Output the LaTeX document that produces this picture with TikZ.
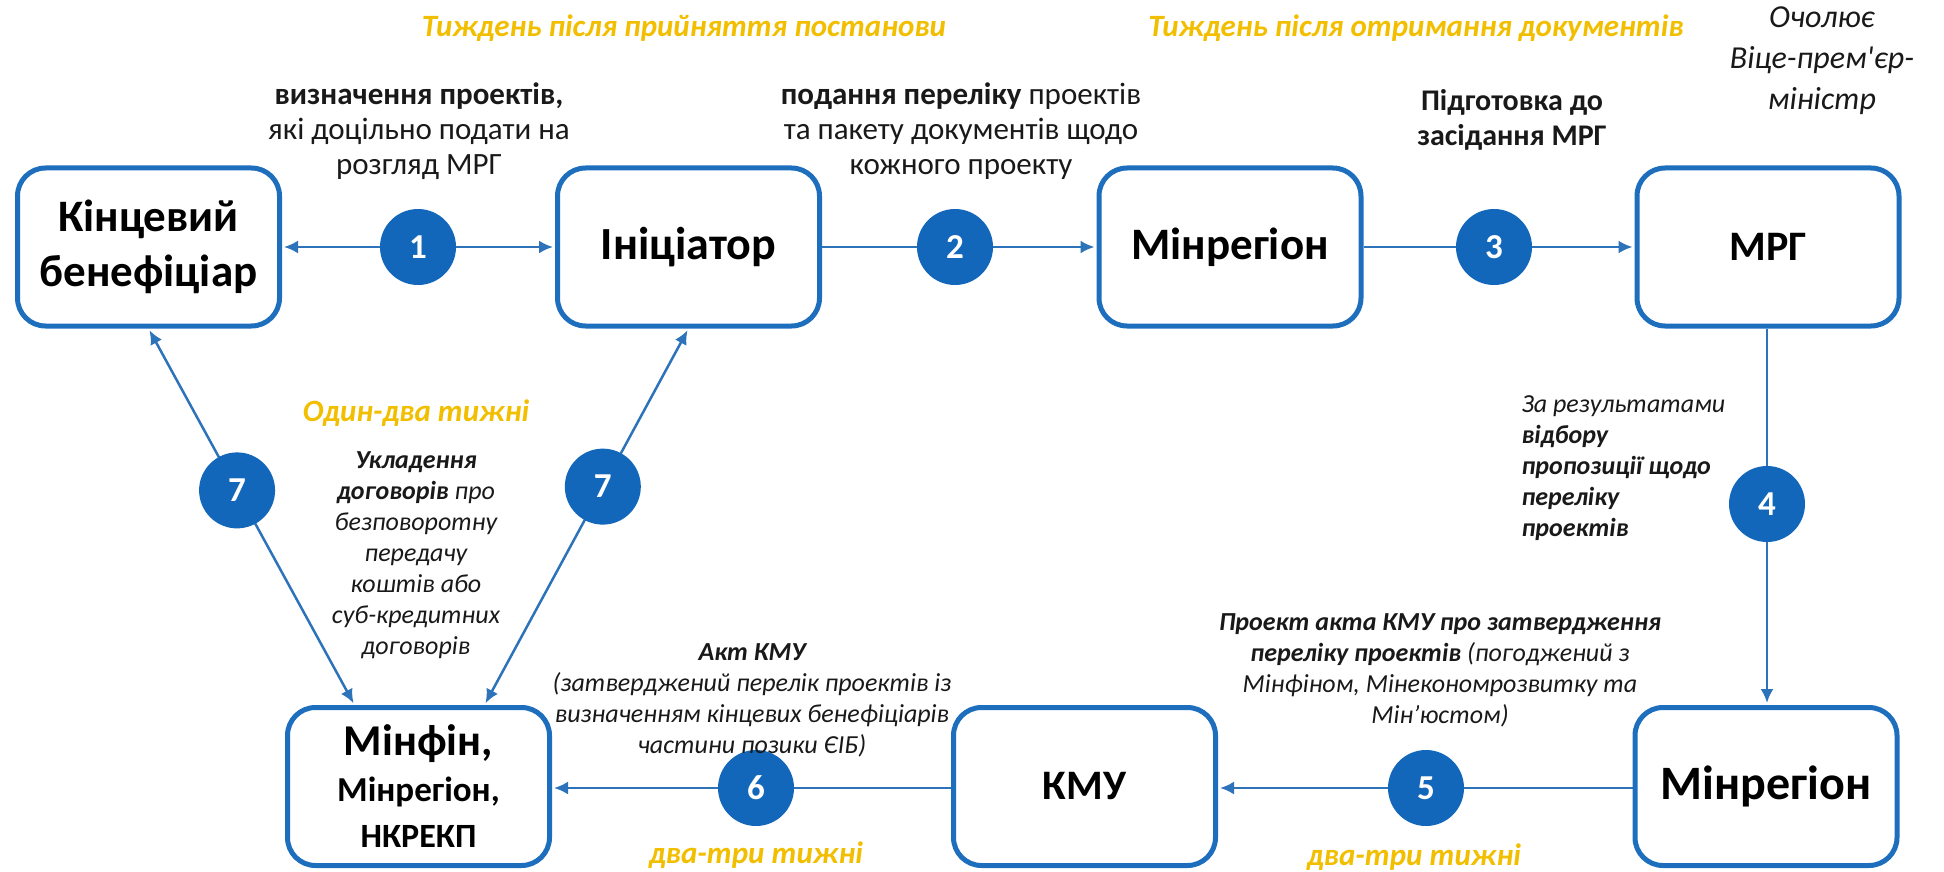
\documentclass[tikz,border=0pt]{standalone}
\usepackage{fontspec}
\setmainfont{Carlito}
\usetikzlibrary{arrows.meta,calc,backgrounds}
\definecolor{boxblue}{RGB}{30,110,190}
\definecolor{lineblue}{RGB}{45,115,185}
\definecolor{circblue}{RGB}{18,103,186}
\definecolor{goldc}{RGB}{242,190,0}
\definecolor{txtc}{RGB}{25,25,25}
\begin{document}
\begin{tikzpicture}[x=1pt,y=-1pt,
  box/.style={draw=boxblue, line width=5pt, rounded corners=28pt, minimum width=262pt, minimum height=158pt, align=center, fill=white, text=black, font=\fontsize{44}{54}\selectfont\bfseries},
  num/.style={circle, fill=circblue, minimum size=76pt, inner sep=0pt, text=white, font=\fontsize{35}{35}\selectfont\bfseries},
  conn/.style={draw=lineblue, line width=2.5pt},
  arr/.style={conn, -{Latex[length=14pt,width=13pt]}, shorten >=2pt},
  lbl/.style={align=center, text=txtc, font=\fontsize{31}{35}\selectfont},
  goldtxt/.style={text=goldc, font=\fontsize{31}{35}\selectfont\bfseries\itshape},
  note/.style={align=center, text=txtc, font=\fontsize{26}{31}\selectfont\itshape},
]
\useasboundingbox (0,0) rectangle (1944,872);

% boxes
\node[box, font=\fontsize{45}{55}\selectfont\bfseries] (b1) at (148.5,247) {Кінцевий\\бенефіціар};
\node[box, font=\fontsize{46}{55}\selectfont\bfseries] (b2) at (688.5,247) {Ініціатор};
\node[box, font=\fontsize{45}{55}\selectfont\bfseries] (b3) at (1230,247) {Мінрегіон};
\node[box, font=\fontsize{42}{55}\selectfont\bfseries] (b4) at (1768,247) {МРГ};
\node[box, font=\fontsize{48}{55}\selectfont\bfseries] (b5) at (1766,786.5) {Мінрегіон};
\node[box, font=\fontsize{42}{55}\selectfont\bfseries] (b6) at (1084.5,786.5) {КМУ};
\node[box, font=\fontsize{34}{46}\selectfont\bfseries] (b7) at (418.5,786.5) {{\fontsize{44}{46}\selectfont Мінфін,}\\{\fontsize{35}{46}\selectfont Мінрегіон,}\\НКРЕКП};

% step circles
\node[num] (c1) at (418,247) {1};
\node[num] (c2) at (955,247) {2};
\node[num] (c3) at (1494,247) {3};
\node[num] (c4) at (1767,504) {4};
\node[num] (c5) at (1426,788) {5};
\node[num] (c6) at (756,788) {6};
\node[num] (c7a) at ($(b1.south)!0.43!([xshift=-64pt]b7.north)$) {7};
\node[num] (c7b) at ($(b2.south)!0.42!([xshift=66pt]b7.north)$) {7};

% connectors
\begin{scope}[on background layer]
\draw[arr] (c1.center) -- (c1.center -| b1.east);
\draw[arr] (c1.center) -- (c1.center -| b2.west);
\draw[conn] (b2.east) -- (c2.center);
\draw[arr] (c2.center) -- (c2.center -| b3.west);
\draw[conn] (b3.east) -- (c3.center);
\draw[arr] (c3.center) -- (c3.center -| b4.west);
\draw[conn] (b4.south -| c4.center) -- (c4.center);
\draw[arr] (c4.center) -- (c4.center |- b5.north);
\draw[conn] (c5.center -| b5.west) -- (c5.center);
\draw[arr] (c5.center) -- (c5.center -| b6.east);
\draw[conn] (c6.center -| b6.west) -- (c6.center);
\draw[arr] (c6.center) -- (c6.center -| b7.east);
\draw[arr] (c7a.center) -- (b1.south);
\draw[arr] (c7a.center) -- ([xshift=-64pt]b7.north);
\draw[arr] (c7b.center) -- (b2.south);
\draw[arr] (c7b.center) -- ([xshift=66pt]b7.north);
\end{scope}

% texts
\node[goldtxt] (g1) at (684,28) {Тиждень після прийняття постанови};
\node[goldtxt] (g2) at (1416,28) {Тиждень після отримання документів};
\node[align=center, text=txtc, font=\fontsize{32}{41}\selectfont\itshape] (head) at (1822,61) {Очолює\\Віце-прем\textquotesingle єр-\\міністр};
\node[lbl] (l1) at (419,131) {\textbf{визначення проектів,}\\які доцільно подати на\\розгляд МРГ};
\node[lbl] (l2) at (961,131) {\textbf{подання переліку} проектів\\та пакету документів щодо\\кожного проекту};
\node[lbl, font=\fontsize{30}{35}\selectfont\bfseries] (l3) at (1512,120) {Підготовка до\\засідання МРГ};
\node[goldtxt] (g3) at (416,413) {Один-два тижні};
\node[note] (l7) at (416,555) {\textbf{Укладення}\\\textbf{договорів} про\\безповоротну\\передачу\\коштів або\\суб-кредитних\\договорів};
\node[note, align=left, anchor=west] (l4) at (1518,468) {За результатами\\\textbf{відбору}\\\textbf{пропозиції щодо}\\\textbf{переліку}\\\textbf{проектів}};
\node[note] (l6) at (752,700) {\textbf{Акт КМУ}\\(затверджений перелік проектів із\\визначенням кінцевих бенефіціарів\\частини позики ЄІБ)};
\node[note] (l5) at (1440,670) {\textbf{Проект акта КМУ про затвердження}\\\textbf{переліку проектів} (погоджений з\\Мінфіном, Мінекономрозвитку та\\Мін’юстом)};
\node[goldtxt] (g6) at (756,855) {два-три тижні};
\node[goldtxt] (g5) at (1414,857) {два-три тижні};
\end{tikzpicture}
\end{document}
